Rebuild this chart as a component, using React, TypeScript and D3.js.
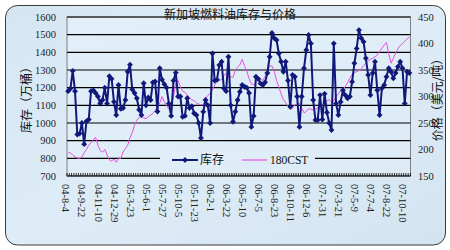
import React from 'react';
import * as d3 from 'd3';

const inventory: number[] = [
  1180, 1195, 1295, 1180, 935, 940, 1000, 880, 1010, 1020,
  1180, 1185, 1170, 1150, 1110, 1130, 1200, 1110, 1265, 1250,
  1120, 1045, 1215, 1080, 1085, 1130, 1290, 1330, 1190, 1170,
  1140, 1075, 1045, 1225, 1100, 1145, 1130, 1230, 1235, 1065,
  1310, 1245, 1220, 1200, 1110, 1040, 1240, 1285, 1150, 1150,
  1035, 1040, 1140, 1085, 1095, 1055, 1045, 1000, 915, 1063,
  1130, 1100, 1000, 1394, 1240, 1245, 1328, 1347, 1196, 1180,
  1375, 1100, 1007, 1064, 1130, 1177, 1215, 1205, 1200, 1170,
  978, 1040, 1262, 1250, 1224, 1215, 1230, 1283, 1375, 1510,
  1480, 1470, 1394, 1347, 1290, 1347, 1240, 1092, 1272, 1262,
  1150, 978, 1150, 1310, 1413, 1498, 1450, 1130, 1017, 1017,
  1158, 1020, 1165, 1060, 1000, 960, 1450, 1111, 1045, 1120,
  1186, 1158, 1140, 1150, 1233, 1338, 1422, 1526, 1480, 1460,
  1366, 1272, 1158, 1283, 1347, 1186, 1045, 1196, 1215, 1262,
  1310, 1290, 1253, 1283, 1319, 1347, 1310, 1111, 1290, 1283,
];

const price: number[] = [
  195, 193, 190, 186, 184, 183, 186, 194, 200, 208,
  213, 218, 223, 208, 198, 195, 200, 190, 180, 178,
  182, 176, 184, 183, 195, 202, 208, 222, 232, 246,
  255, 261, 262, 260, 258, 262, 265, 268, 274, 280,
  288, 300, 290, 282, 276, 280, 300, 325, 330, 318,
  310, 308, 303, 298, 294, 292, 288, 286, 284, 285,
  296, 302, 306, 312, 322, 331, 330, 332, 340, 343,
  338, 337, 336, 350, 355, 360, 370, 358, 348, 334,
  324, 322, 327, 332, 333, 330, 338, 350, 357, 358,
  348, 330, 318, 305, 294, 288, 282, 276, 278, 284,
  286, 287, 278, 269, 272, 277, 276, 275, 276, 279,
  281, 284, 287, 292, 294, 290, 292, 300, 305, 312,
  315, 318, 326, 334, 342, 345, 347, 349, 352, 358,
  363, 367, 370, 372, 375, 378, 385, 391, 397, 402,
  380, 363, 372, 382, 390, 396, 400, 404, 409, 412,
];

const tickLabels: string[] = [
  '04-8-4', '04-9-22', '04-11-10', '04-12-29', '05-3-23', '05-6-1', '05-7-27',
  '05-10-5', '05-11-23', '06-2-1', '06-3-22', '06-5-10', '06-7-5', '06-8-23',
  '06-10-11', '06-12-6', '07-1-31', '07-3-21', '07-5-9', '07-7-4', '07-8-22', '07-10-10',
];
const labelEvery = 7;

const leftTicks: number[] = [700, 800, 900, 1000, 1100, 1200, 1300, 1400, 1500, 1600];
const rightTicks: number[] = [150, 200, 250, 300, 350, 400, 450];

const title = '新加坡燃料油库存与价格';
const leftTitle = '库存（万桶）';
const rightTitle = '价格（美元/吨）';
const seriesNames = ['库存', '180CST'];

const BLUE = '#10187a';
const PINK = '#e850e0';
const CJK = '"Noto Sans CJK SC", sans-serif';
const LATIN = '"Liberation Serif", "DejaVu Serif", serif';

export default function App() {
  const W = 450;
  const H = 250;
  const plot = { l: 67, r: 410.5, t: 17, b: 176 };

  const idx = inventory.map((_, i) => i);
  const x = d3.scalePoint<number>().domain(idx).range([plot.l, plot.r]).padding(0.5);
  const step = x.step();
  const yL = d3.scaleLinear().domain([700, 1600]).range([plot.b, plot.t]);
  const yR = d3.scaleLinear().domain([150, 450]).range([plot.b, plot.t]);

  const lineL = d3.line<number>().x((_, i) => x(i)!).y((d) => yL(d));
  const lineR = d3.line<number>().x((_, i) => x(i)!).y((d) => yR(d));
  const diamond = d3.symbol(d3.symbolSquare, 17)()!;

  const minorTicks = d3.range(inventory.length + 1).map((k) => plot.l + k * step);

  const legend = { x: 160, y: 152, w: 155, h: 16 };
  const legY = legend.y + legend.h / 2;

  return (
    <svg width={W} height={H} style={{ position: 'absolute', left: 0, top: 0 }}>
      <defs>
        <linearGradient id="bg" x1="0" y1="0" x2="1" y2="1">
          <stop offset="0" stopColor="#d5e6f3" />
          <stop offset="0.5" stopColor="#deecf7" />
          <stop offset="1" stopColor="#d3e4f1" />
        </linearGradient>
        <linearGradient id="pbg" x1="0" y1="0" x2="1" y2="1">
          <stop offset="0" stopColor="#e2eff9" />
          <stop offset="1" stopColor="#dcebf6" />
        </linearGradient>
      </defs>
      <rect x={0} y={0} width={W} height={H} fill="#ffffff" />
      <rect x={5.5} y={5.5} width={440} height={239.5} rx={12} ry={12} fill="url(#bg)" stroke="#3a3a3a" strokeWidth={1} />

      {/* plot area */}
      <rect x={plot.l} y={plot.t} width={plot.r - plot.l} height={plot.b - plot.t} fill="url(#pbg)" stroke="#808080" strokeWidth={1} />

      {/* gridlines */}
      {leftTicks.map((t) => (
        <line key={'g' + t} x1={plot.l} x2={plot.r} y1={yL(t)} y2={yL(t)} stroke="#000" strokeWidth={1.2} />
      ))}

      {/* minor category ticks */}
      {minorTicks.map((mx, k) => (
        <line key={'m' + k} x1={mx} x2={mx} y1={plot.b - 3} y2={plot.b} stroke="#000" strokeWidth={0.8} />
      ))}

      {/* left axis labels */}
      {leftTicks.map((t) => (
        <text key={'l' + t} x={56} y={yL(t)} dy="0.35em" textAnchor="end" fontFamily={LATIN} fontSize={10.5} fill="#222">
          {t}
        </text>
      ))}
      {/* right axis labels */}
      {rightTicks.map((t) => (
        <text key={'r' + t} x={418} y={yR(t)} dy="0.35em" textAnchor="start" fontFamily={LATIN} fontSize={10.5} fill="#222">
          {t}
        </text>
      ))}

      {/* x labels */}
      {tickLabels.map((lab, k) => {
        const cx = x(k * labelEvery)! - 2;
        const ty = 184;
        return (
          <text key={'x' + k} transform={`translate(${cx},${ty}) rotate(90)`} dy="0.35em" textAnchor="start" fontFamily={LATIN} fontSize={10.5} fill="#222">
            {lab}
          </text>
        );
      })}

      {/* price line */}
      <path d={lineR(price)!} fill="none" stroke={PINK} strokeWidth={1} />
      {/* inventory line */}
      <path d={lineL(inventory)!} fill="none" stroke={BLUE} strokeWidth={2} strokeLinejoin="round" />
      {inventory.map((v, i) => (
        <path key={'d' + i} d={diamond} transform={`translate(${x(i)},${yL(v)}) rotate(45)`} fill={BLUE} />
      ))}

      {/* legend */}
      <rect x={legend.x} y={legend.y} width={legend.w} height={legend.h} fill="url(#pbg)" />
      <line x1={172} x2={198} y1={legY} y2={legY} stroke={BLUE} strokeWidth={2} />
      <path d={diamond} transform={`translate(185,${legY}) rotate(45)`} fill={BLUE} />
      <text x={200} y={legY} dy="0.36em" fontFamily={CJK} fontSize={12} fill="#111">{seriesNames[0]}</text>
      <line x1={242} x2={267} y1={legY} y2={legY} stroke={PINK} strokeWidth={1.2} />
      <text x={270} y={legY} dy="0.35em" fontFamily={LATIN} fontSize={11.5} fill="#111">{seriesNames[1]}</text>

      {/* titles */}
      <text x={230} y={15} dy="0.35em" textAnchor="middle" fontFamily={CJK} fontSize={12} fill="#111">{title}</text>
      <text transform={`translate(27,97) rotate(-90)`} dy="0.35em" textAnchor="middle" fontFamily={CJK} fontSize={12} fill="#111">{leftTitle}</text>
      <text transform={`translate(438,97) rotate(-90)`} dy="0.35em" textAnchor="middle" fontFamily={CJK} fontSize={12} fill="#111">{rightTitle}</text>
    </svg>
  );
}
